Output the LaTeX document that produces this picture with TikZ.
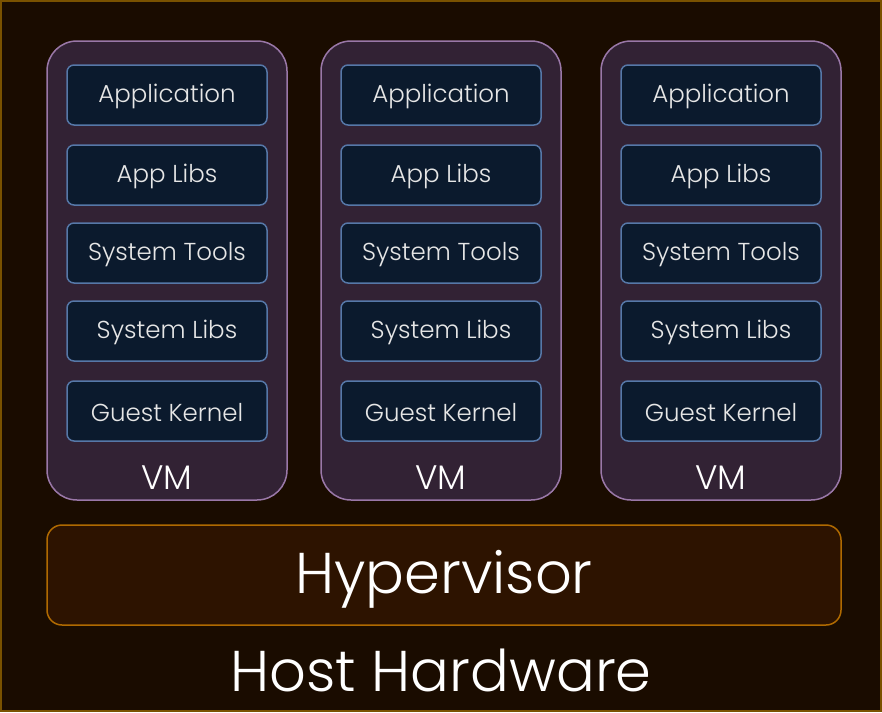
\documentclass[tikz,border=0pt]{standalone}
\usepackage{fontspec}
\setmainfont{Poppins}[UprightFont=* Light]
\definecolor{bg}{HTML}{1A0C00}
\definecolor{outerb}{HTML}{7A5200}
\definecolor{vmfill}{HTML}{322234}
\definecolor{vmdraw}{HTML}{9A78A8}
\definecolor{lfill}{HTML}{0B1A2D}
\definecolor{ldraw}{HTML}{5678A8}
\definecolor{hfill}{HTML}{2D1300}
\definecolor{hdraw}{HTML}{B06A00}
\definecolor{txt}{HTML}{E6E6E6}
\tikzset{
  vmbox/.style={draw=vmdraw, fill=vmfill, line width=1.5pt, rounded corners=30pt},
  layer/.style={draw=ldraw, fill=lfill, line width=1.5pt, rounded corners=7pt, minimum width=200pt, minimum height=60pt, inner sep=0pt},
  ltext/.style={text=txt, font=\fontsize{24.5}{28}\selectfont, inner sep=0pt},
  vmlabel/.style={text=white, font=\fontsize{34}{40}\selectfont, inner sep=0pt},
  big/.style={text=white, font=\fontsize{57.5}{66}\selectfont, inner sep=0pt}
}
\begin{document}
\begin{tikzpicture}[x=1pt,y=-1pt]
\fill[bg] (0,0) rectangle (882,712);
\draw[outerb, line width=2pt] (1,1) rectangle (881,711);
\useasboundingbox (0,0) rectangle (882,712);
\foreach \i/\x in {1/47,2/321,3/601}{
  \draw[vmbox] (\x,41) rectangle ++(240,459);
  \foreach \n/\y/\t in {app/95/Application, alib/175/App Libs, stool/253/System Tools, slib/331/System Libs, gk/411/Guest Kernel}{
    \node[layer] (\n\i) at (\x+120,\y) {};
    \node[ltext] (\n t\i) at (\x+120,\y+1.5) {\t};
  }
  \node[vmlabel] (vm\i) at (\x+120,478) {VM};
}
\node[draw=hdraw, fill=hfill, line width=1.5pt, rounded corners=15pt, minimum width=794pt, minimum height=100pt, inner sep=0pt] (hyp) at (444,575) {};
\node[big] (hyptxt) at (444,579) {Hypervisor};
\node[big] (host) at (441,670) {Host Hardware};
\end{tikzpicture}
\end{document}
